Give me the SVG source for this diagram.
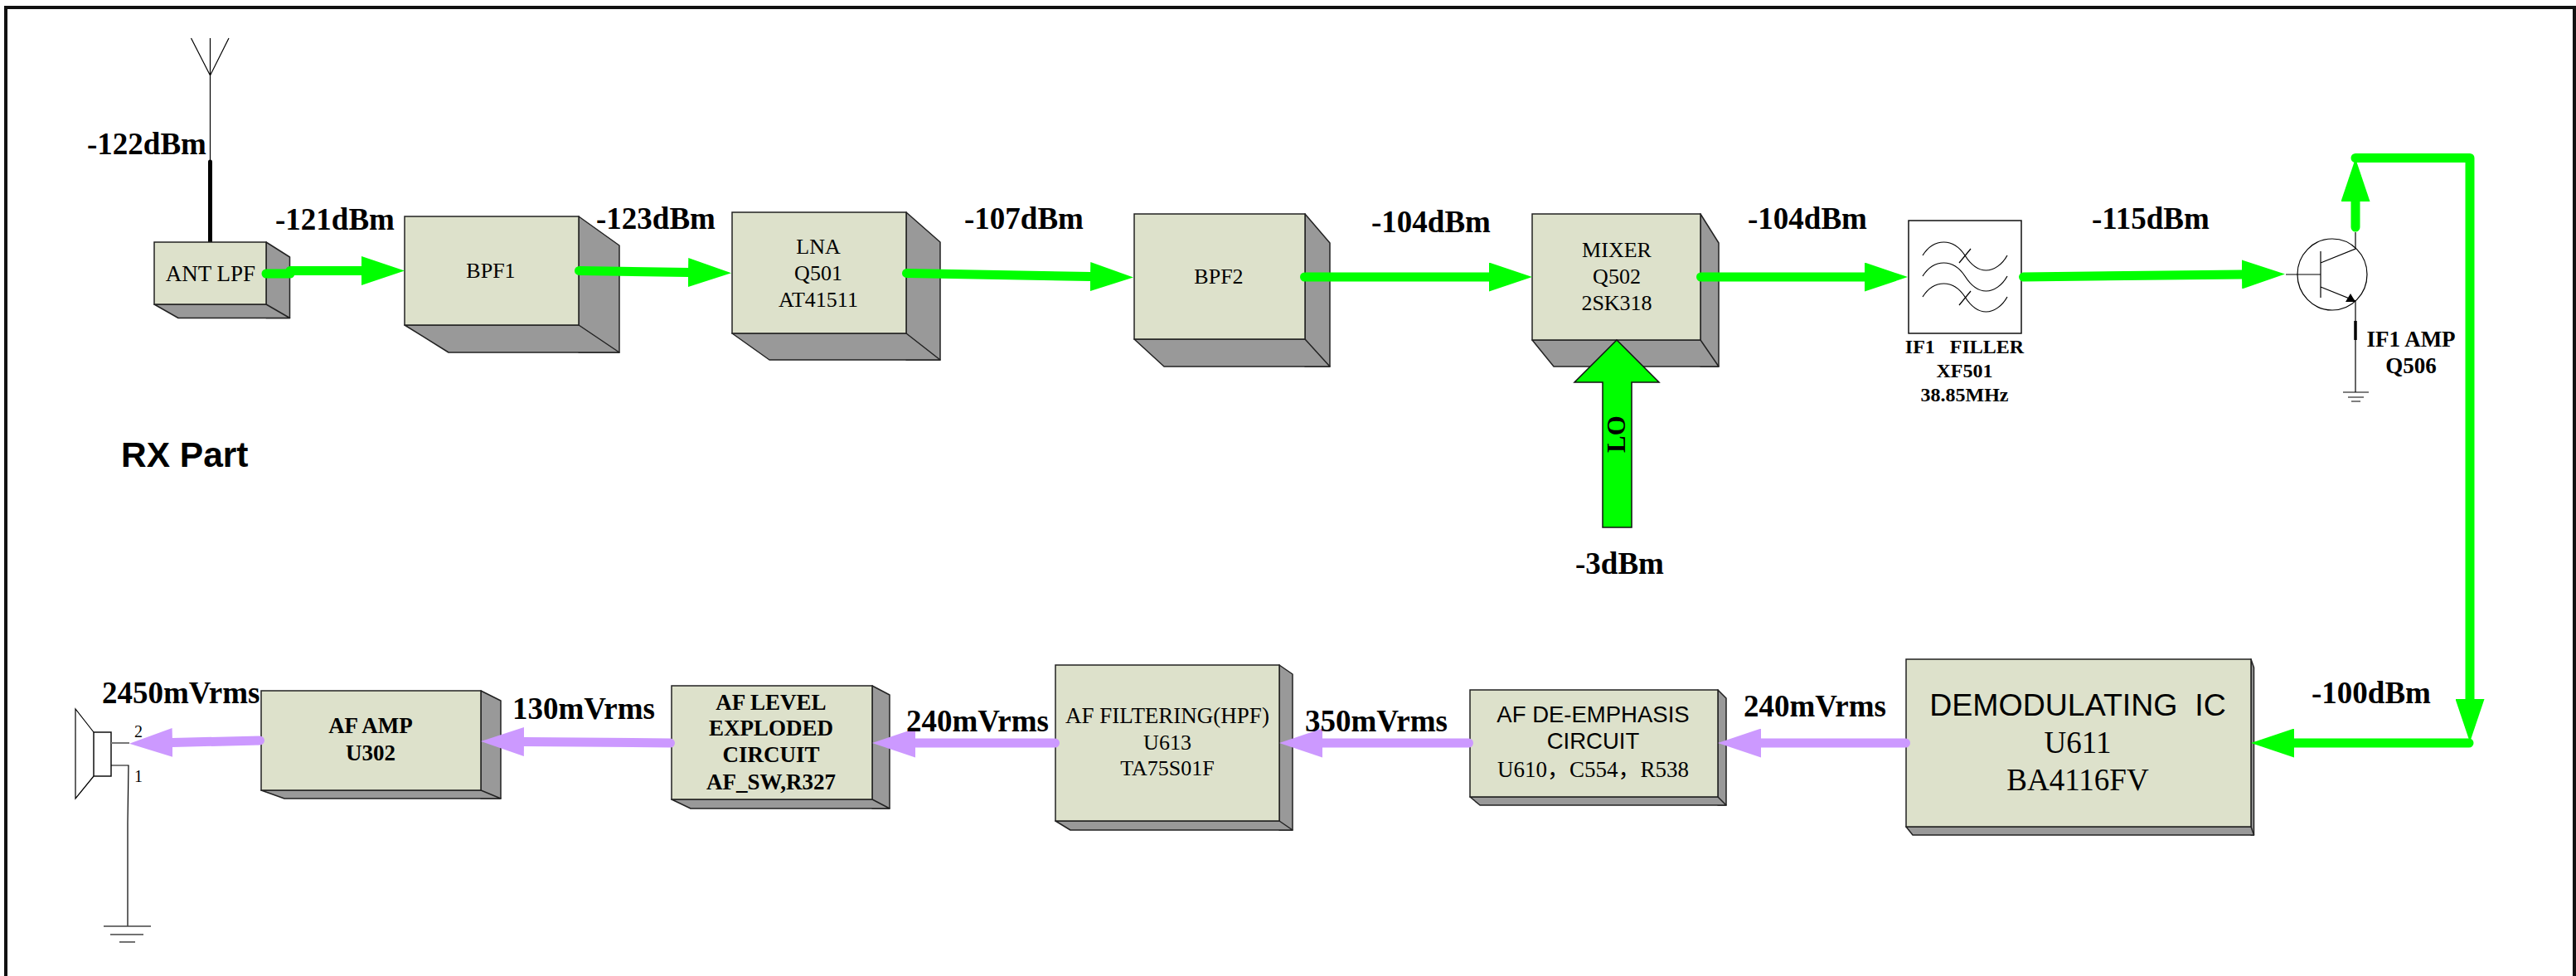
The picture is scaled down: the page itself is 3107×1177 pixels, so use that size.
<svg xmlns="http://www.w3.org/2000/svg" width="3107" height="1177" viewBox="0 0 3107 1177">
<style>
text{font-family:"Liberation Serif","Noto Sans CJK SC",serif;fill:#000;text-anchor:middle}
.n{font-size:26px}
.b{font-size:27px;font-weight:bold}
.f{font-size:24px;font-weight:bold}
.l{font-size:37px;font-weight:bold;text-anchor:start}
.s{font-family:"Liberation Sans","Noto Sans CJK SC",sans-serif}
.front{fill:#dde1cb;stroke:#222;stroke-width:1.5}
.side{fill:#999;stroke:#222;stroke-width:1.5;stroke-linejoin:round}
.w{fill:none;stroke:#000;stroke-width:1.2}
.g{fill:none;stroke:#0f0;stroke-width:11;stroke-linecap:round;stroke-linejoin:round}
.gm{marker-end:url(#ag)}
.p{fill:none;stroke:#c9f;stroke-width:11;stroke-linecap:round;marker-end:url(#ap)}
</style>
<defs>
<marker id="ag" markerUnits="userSpaceOnUse" markerWidth="53" markerHeight="35" refX="0" refY="17.5" orient="auto"><path d="M0 0L52 17.500L0 35z" fill="#0f0"/></marker>
<marker id="ap" markerUnits="userSpaceOnUse" markerWidth="53" markerHeight="35" refX="0" refY="17.5" orient="auto"><path d="M0 0L52 17.500L0 35z" fill="#c9f"/></marker>
</defs>
<rect x="7" y="9" width="3098" height="1220" fill="#fff" stroke="#111" stroke-width="4"/>

<g id="antenna">
<path class="w" d="M230.500 46L253.500 91L276 46M253.500 46V195"/>
<path d="M253.500 195V293" fill="none" stroke="#000" stroke-width="5" stroke-linecap="round"/>
</g>

<g id="ant-lpf">
<path class="side" d="M321 292L349.500 310V383.500H321z"/><path class="side" d="M186 367H321L349.500 383.500H215z"/>
<rect class="front" x="186" y="292" width="135" height="75"/>
<text x="254" y="339" style="font-size:27px">ANT LPF</text>
</g>
<g id="bpf1">
<path class="side" d="M698 261L747 296V425H698z"/><path class="side" d="M488 392H698L747 425H541z"/>
<rect class="front" x="488" y="261" width="210" height="131"/>
<text class="n" x="592" y="335">BPF1</text>
</g>
<g id="lna">
<path class="side" d="M1093 256L1134 292V434H1093z"/><path class="side" d="M883 402H1093L1134 434H928z"/>
<rect class="front" x="883" y="256" width="210" height="146"/>
<text class="n" x="987" y="306">LNA</text><text class="n" x="987" y="338">Q501</text><text class="n" x="987" y="370">AT41511</text>
</g>
<g id="bpf2">
<path class="side" d="M1574 258L1604 293V442H1574z"/><path class="side" d="M1368 409H1574L1604 442H1404z"/>
<rect class="front" x="1368" y="258" width="206" height="151"/>
<text class="n" x="1470" y="342">BPF2</text>
</g>
<g id="mixer">
<path class="side" d="M2051 258L2073 293V442H2051z"/><path class="side" d="M1848 410H2051L2073 442H1874z"/>
<rect class="front" x="1848" y="258" width="203" height="152"/>
<text class="n" x="1950" y="310">MIXER</text><text class="n" x="1950" y="342">Q502</text><text class="n" x="1950" y="374">2SK318</text>
</g>
<g id="if1-filter">
<rect x="2302" y="266" width="136" height="136" fill="#fff" stroke="#111" stroke-width="1.5"/>
<path class="w" d="M2319 308C2326 297 2335 292 2344.500 292C2355 292 2364 299 2370 308C2377 319 2386 326 2395.500 326C2405 326 2415 319 2421 308M2363 317L2377 300"/>
<path class="w" d="M2319 333C2326 322 2335 317 2344.500 317C2355 317 2364 324 2370 333C2377 344 2386 351 2395.500 351C2405 351 2415 344 2421 333"/>
<path class="w" d="M2319 358C2326 347 2335 342 2344.500 342C2355 342 2364 349 2370 358C2377 369 2386 376 2395.500 376C2405 376 2415 369 2421 358M2363 368L2377 351"/>
<text class="f" x="2369.500" y="426" style="white-space:pre">IF1   FILLER</text>
<text class="f" x="2369.500" y="455">XF501</text>
<text class="f" x="2369.500" y="484">38.85MHz</text>
</g>
<g id="if1-amp">
<ellipse class="w" cx="2813" cy="331" rx="42" ry="43"/>
<path class="w" d="M2757 331H2799M2799 303V359M2799 317L2841 300V280M2799 346L2841 363V473"/>
<path d="M2841 364L2829 364L2835 354z" fill="#000"/>
<path d="M2841 387V410" stroke="#000" stroke-width="3.500" fill="none"/>
<path class="w" d="M2826 473H2857M2832 479H2851M2836 484H2847"/>
<text class="b" x="2908" y="418">IF1 AMP</text><text class="b" x="2908" y="450">Q506</text>
</g>
<g id="demod">
<path class="side" d="M2715 795L2718.500 805V1007H2715z"/><path class="side" d="M2299 997H2715L2718.500 1007H2307z"/>
<rect class="front" x="2299" y="795" width="416" height="202"/>
<text class="s" x="2506" y="863" style="font-size:37.500px;white-space:pre">DEMODULATING  IC</text>
<text x="2506" y="908" style="font-size:37px">U611</text><text x="2506" y="953" style="font-size:37px">BA4116FV</text>
</g>
<g id="af-deemphasis">
<path class="side" d="M2072 832L2082 842V971H2072z"/><path class="side" d="M1773 961H2072L2082 971H1785z"/>
<rect class="front" x="1773" y="832" width="299" height="129"/>
<text class="s" x="1921.500" y="871" style="font-size:27.500px">AF DE-EMPHASIS</text>
<text class="s" x="1921.500" y="903" style="font-size:27.500px">CIRCUIT</text>
<text x="1921.500" y="937" style="font-size:27px">U610，C554，R538</text>
</g>
<g id="af-filtering">
<path class="side" d="M1543 802L1559 813V1001H1543z"/><path class="side" d="M1273 990H1543L1559 1001H1291z"/>
<rect class="front" x="1273" y="802" width="270" height="188"/>
<text x="1408" y="872" style="font-size:27px">AF FILTERING(HPF)</text>
<text class="n" x="1408" y="904">U613</text><text class="n" x="1408" y="935">TA75S01F</text>
</g>
<g id="af-level">
<path class="side" d="M1052 827L1073 838V975H1052z"/><path class="side" d="M810 964H1052L1073 975H833z"/>
<rect class="front" x="810" y="827" width="242" height="137"/>
<text class="b" x="930" y="856">AF LEVEL</text><text class="b" x="930" y="887">EXPLODED</text><text class="b" x="930" y="919">CIRCUIT</text><text class="b" x="930" y="952">AF_SW,R327</text>
</g>
<g id="af-amp">
<path class="side" d="M580 833L604 845V963H580z"/><path class="side" d="M315 953H580L604 963H343z"/>
<rect class="front" x="315" y="833" width="265" height="120"/>
<text class="b" x="447" y="884">AF AMP</text><text class="b" x="447" y="917">U302</text>
</g>
<g id="speaker">
<path class="w" d="M113 883L91 855V963L113 936"/>
<rect x="113" y="883" width="21" height="53" fill="#fff" stroke="#111" stroke-width="1.500"/>
<path d="M134 896H156" stroke="#777" stroke-width="2" fill="none"/>
<path class="w" d="M134 923H155L154 992V1117"/>
<path d="M125 1117H182M133 1127H173M144 1136H163" stroke="#444" stroke-width="1.500" fill="none"/>
<text x="167" y="889" style="font-size:20px">2</text><text x="167" y="943" style="font-size:20px">1</text>
</g>

<g id="connectors">
<path class="g" d="M321 330H350"/>
<path class="g gm" d="M350 326.500H436"/>
<path class="g gm" d="M698.500 326.500L830 328.500"/>
<path class="g gm" d="M1093.500 329.500L1315 333.500"/>
<path class="g gm" d="M1573.500 334H1796"/>
<path class="g gm" d="M2051.500 334H2249"/>
<path class="g gm" d="M2440.500 334L2704 331"/>
<path class="g gm" d="M2841 274V243"/>
<path class="g gm" d="M2841 190.500H2979V843"/>
<path class="g gm" d="M2978 896H2767"/>
<path class="p" d="M2298.500 896H2124"/>
<path class="p" d="M1771.500 896H1595"/>
<path class="p" d="M1272.500 896H1104"/>
<path class="p" d="M808.500 896L632 894.500"/>
<path class="p" d="M313.500 893L208 895.500"/>
<path d="M1950 410L2001 461H1968V636H1933V461H1899z" fill="#0f0" stroke="#111" stroke-width="1.500"/>
<text transform="translate(1960 546) rotate(-90)" style="font-size:31px;font-weight:bold;text-anchor:start">LO</text>
</g>

<g id="labels">
<text class="l" x="105" y="185.500">-122dBm</text>
<text class="l" x="332" y="276.500">-121dBm</text>
<text class="l" x="719" y="275.500">-123dBm</text>
<text class="l" x="1163" y="275.500">-107dBm</text>
<text class="l" x="1654" y="279.500">-104dBm</text>
<text class="l" x="2108" y="275.500">-104dBm</text>
<text class="l" x="2523" y="275.500">-115dBm</text>
<text class="l" x="1900" y="691.500">-3dBm</text>
<text class="l" x="2788" y="847.500">-100dBm</text>
<text class="l" x="2103" y="863.500">240mVrms</text>
<text class="l" x="1574" y="882">350mVrms</text>
<text class="l" x="1093" y="882">240mVrms</text>
<text class="l" x="618" y="867">130mVrms</text>
<text class="l" x="123" y="847.500">2450mVrms</text>
<text x="146" y="563" class="s" style="font-size:42.500px;font-weight:bold;text-anchor:start">RX Part</text>
</g>
</svg>
